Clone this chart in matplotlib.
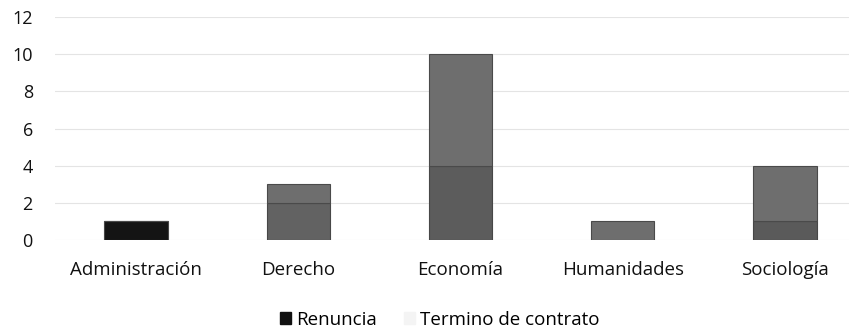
import matplotlib
matplotlib.use("Agg")
import matplotlib.pyplot as plt
from matplotlib.patches import Patch

# Data
categorias = ["Administración", "Derecho", "Economía", "Humanidades", "Sociología"]
renuncia = [1, 2, 4, 0, 1]
termino_contrato = [0, 1, 6, 1, 3]
y_ticks = [0, 2, 4, 6, 8, 10, 12]

plt.rcParams["font.family"] = ["Open Sans", "DejaVu Sans"]

fig = plt.figure(figsize=(8.49, 3.33), dpi=100)
ax = fig.add_axes([55 / 849, 1 - 240 / 333, 1 - 55 / 849, (240 - 17) / 333])

x = list(range(len(categorias)))
width = 0.39

col_renuncia = ["#141414", "#626262", "#5c5c5c", "#626262", "#5a5a5a"]
col_termino = "#6e6e6e"

ax.bar(x, renuncia, width, color=col_renuncia, edgecolor="#474747", linewidth=0.8, zorder=3)
ax.bar(x, termino_contrato, width, bottom=renuncia, color=col_termino,
       edgecolor="#4a4a4a", linewidth=0.8, zorder=3)

ax.set_xlim(-0.5, 4.394)
ax.set_ylim(0, 12)
ax.set_yticks(y_ticks)
ax.set_yticklabels([str(v) for v in y_ticks], fontsize=13, color="#111111")
ax.set_xticks(x)
ax.set_xticklabels(categorias, fontsize=13.5, color="#111111")
ax.tick_params(axis="both", length=0)
ax.tick_params(axis="y", pad=16)
ax.tick_params(axis="x", pad=15)

for s in ax.spines.values():
    s.set_visible(False)
ax.yaxis.grid(True, color="#e4e4e4", linewidth=0.8, zorder=0)
ax.set_axisbelow(True)

handles = [Patch(facecolor="#111111", edgecolor="#111111"),
           Patch(facecolor="#f4f4f4", edgecolor="#f4f4f4")]
fig.legend(handles, ["Renuncia", "Termino de contrato"], loc="center",
           bbox_to_anchor=(0.518, 0.04), ncol=2, frameon=False, fontsize=13.5,
           handlelength=0.6, handleheight=0.6, handletextpad=0.3, columnspacing=1.4,
           borderpad=0)

fig.savefig("out.png", dpi=100)
